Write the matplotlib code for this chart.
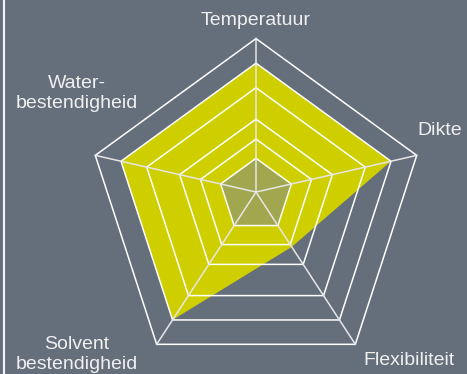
import numpy as np
import matplotlib.pyplot as plt
from matplotlib.lines import Line2D

plt.rcParams['font.family'] = ['Liberation Sans', 'DejaVu Sans']

# data (0-10 scale)
categories = ['Temperatuur', 'Dikte', 'Flexibiliteit', 'Solvent\nbestendigheid', 'Water-\nbestendigheid']
values = [8.4, 8.4, 3.6, 8.4, 8.4]
inner_values = [2.2, 2.2, 2.2, 2.2, 2.2]
ring_levels = [2.2, 3.45, 4.75, 6.8, 8.4, 10]
vmax = 10

bg = '#656e7b'
yellow = '#cfcf00'
olive = '#a1a74e'
apex = 0.092   # the centre is lifted a bit (pseudo 3d look)

angles = np.arange(len(categories)) * 2 * np.pi / len(categories)


def to_xy(vals):
    f = np.asarray(vals, dtype=float) / vmax
    x = f * np.sin(angles)
    y = f * np.cos(angles) + (1 - f) * apex
    return x, y


fig = plt.figure(figsize=(4.67, 3.74), dpi=100, facecolor=bg)
ax = fig.add_axes([0, 0, 1, 1])
ax.set_facecolor(bg)
ax.set_xlim(-256 / 169, (467 - 256) / 169)
ax.set_ylim(-(374 - 207.6) / 169, 207.6 / 169)
ax.axis('off')

# series
x, y = to_xy(values)
ax.fill(x, y, color=yellow, lw=0, zorder=1)
x, y = to_xy(inner_values)
ax.fill(x, y, color=olive, lw=0, zorder=2)

# grid rings
for lvl in ring_levels:
    x, y = to_xy([lvl] * len(categories))
    ax.plot(np.append(x, x[0]), np.append(y, y[0]), color='white', lw=1.1, zorder=3)

# spokes
x0, y0 = to_xy([0] * len(categories))
x1, y1 = to_xy([vmax] * len(categories))
for i in range(len(categories)):
    ax.plot([x0[i], x1[i]], [y0[i], y1[i]], color='#e6e6e6', lw=1.1, zorder=3)

# labels
label_pos = [(0.0, 1.11), (1.085, 0.455), (0.905, -0.905), (-1.06, -0.87), (-1.06, 0.675)]
for lab, (lx, ly) in zip(categories, label_pos):
    ax.text(lx, ly, lab, ha='center', va='center', fontsize=14, color='#f0f0f0',
            linespacing=1.25)

fig.add_artist(Line2D([3.5 / 467, 3.5 / 467], [0, 1], color='#f2f2f2', lw=1.6))

fig.savefig('out.png', dpi=100, facecolor=bg)
